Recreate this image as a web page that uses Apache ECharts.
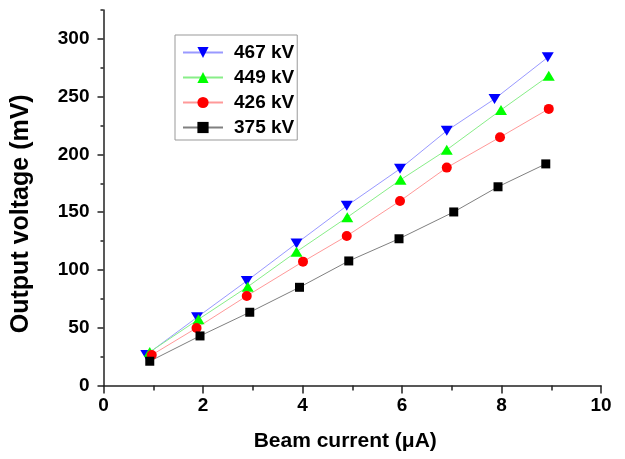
<!DOCTYPE html>
<html>
<head>
<meta charset="utf-8">
<script src="https://cdn.jsdelivr.net/npm/echarts@6/dist/echarts.min.js"></script>
<style>html,body{margin:0;padding:0;background:#fff}#c{width:625px;height:459px}</style>
</head>
<body>
<div id="c"></div>
<script>
var seriesNames = ['467 kV', '449 kV', '426 kV', '375 kV'];
var current467 = [0.86, 1.88, 2.88, 3.88, 4.89, 5.96, 6.9, 7.86, 8.93];
var voltage467 = [26.5, 59, 90.5, 123, 155.5, 187.5, 220.5, 248, 284];
var current449 = [0.93, 1.91, 2.9, 3.88, 4.9, 5.97, 6.9, 7.99, 8.95];
var voltage449 = [29, 57.3, 85.5, 115.8, 145.6, 178, 204, 238.5, 268];
var current426 = [0.97, 1.87, 2.88, 4.01, 4.89, 5.96, 6.9, 7.97, 8.95];
var voltage426 = [26.4, 49.8, 77.5, 107.2, 129.4, 159.7, 188.6, 214.9, 239.4];
var current375 = [0.93, 1.94, 2.94, 3.94, 4.93, 5.94, 7.04, 7.93, 8.89];
var voltage375 = [21, 42.9, 63.4, 85, 107.8, 127, 150.2, 172, 191.8];
var yMajorTicks = [0, 50, 100, 150, 200, 250, 300];
var yMinorTicks = [25, 75, 125, 175, 225, 275, 325];

function pairs(xs, ys) { return xs.map(function (x, i) { return [x, ys[i]]; }); }

var axisColor = '#222';
var font = 'Liberation Sans, Arial, sans-serif';
var chart = echarts.init(document.getElementById('c'), null, { renderer: 'canvas' });

function mk(name, xs, ys, symbol, size, rot, markColor, lineColor) {
  return {
    name: name, type: 'line', data: pairs(xs, ys),
    symbol: symbol, symbolSize: size, symbolRotate: rot, showAllSymbol: true,
    itemStyle: { color: markColor },
    lineStyle: { color: lineColor, width: 1 },
    emphasis: { disabled: true }, animation: false
  };
}

chart.setOption({
  animation: false,
  backgroundColor: '#fff',
  grid: { left: 103.5, right: 24, top: 10, bottom: 73.5 },
  legend: {
    left: 175, top: 35, orient: 'vertical',
    data: seriesNames,
    itemWidth: 40, itemHeight: 14, itemGap: 6,
    padding: [8, 3, 3, 7],
    borderColor: '#999', borderWidth: 1,
    textStyle: { fontFamily: font, fontWeight: 'bold', fontSize: 19, color: '#000', lineHeight: 16, padding: [0, 0, 0, 6] }
  },
  xAxis: {
    type: 'value', min: 0, max: 10, interval: 2,
    name: 'Beam current (\u03bcA)', nameLocation: 'middle', nameGap: 45,
    nameTextStyle: { fontFamily: font, fontWeight: 'bold', fontSize: 21, color: '#000', padding: [0, 14, 0, 0] },
    axisLine: { show: true, lineStyle: { color: axisColor, width: 1.5 } },
    axisTick: { show: true, length: 8, lineStyle: { color: axisColor, width: 1.5 } },
    minorTick: { show: true, splitNumber: 2, length: 5, lineStyle: { color: axisColor, width: 1.5 } },
    splitLine: { show: false },
    axisLabel: { fontFamily: font, fontWeight: 'bold', fontSize: 19, color: '#000', margin: 11 }
  },
  yAxis: [{
    type: 'value', min: 0, max: 325, position: 'left',
    name: 'Output voltage (mV)', nameLocation: 'middle', nameGap: 70,
    nameTextStyle: { fontFamily: font, fontWeight: 'bold', fontSize: 25, color: '#000', padding: [0, 32, 0, 0] },
    axisLine: { show: true, lineStyle: { color: axisColor, width: 1.5 } },
    axisTick: { show: true, length: 6, customValues: yMajorTicks, lineStyle: { color: axisColor, width: 1.5 } },
    splitLine: { show: false },
    axisLabel: { customValues: yMajorTicks, fontFamily: font, fontWeight: 'bold', fontSize: 19, color: '#000', margin: 14 }
  }, {
    type: 'value', min: 0, max: 325, position: 'left', offset: 0,
    axisLine: { show: false },
    axisTick: { show: true, length: 3, customValues: yMinorTicks, lineStyle: { color: axisColor, width: 1.5 } },
    splitLine: { show: false },
    axisLabel: { show: false }
  }],
  series: [
    mk(seriesNames[0], current467, voltage467, 'triangle', [12, 10], 180, '#0000ff', '#9999ff'),
    mk(seriesNames[1], current449, voltage449, 'triangle', [12, 10], 0, '#00ff00', '#88ee88'),
    mk(seriesNames[2], current426, voltage426, 'circle', 10, 0, '#ff0000', '#ff9999'),
    mk(seriesNames[3], current375, voltage375, 'rect', 9, 0, '#000000', '#808080')
  ]
});
</script>
</body>
</html>
